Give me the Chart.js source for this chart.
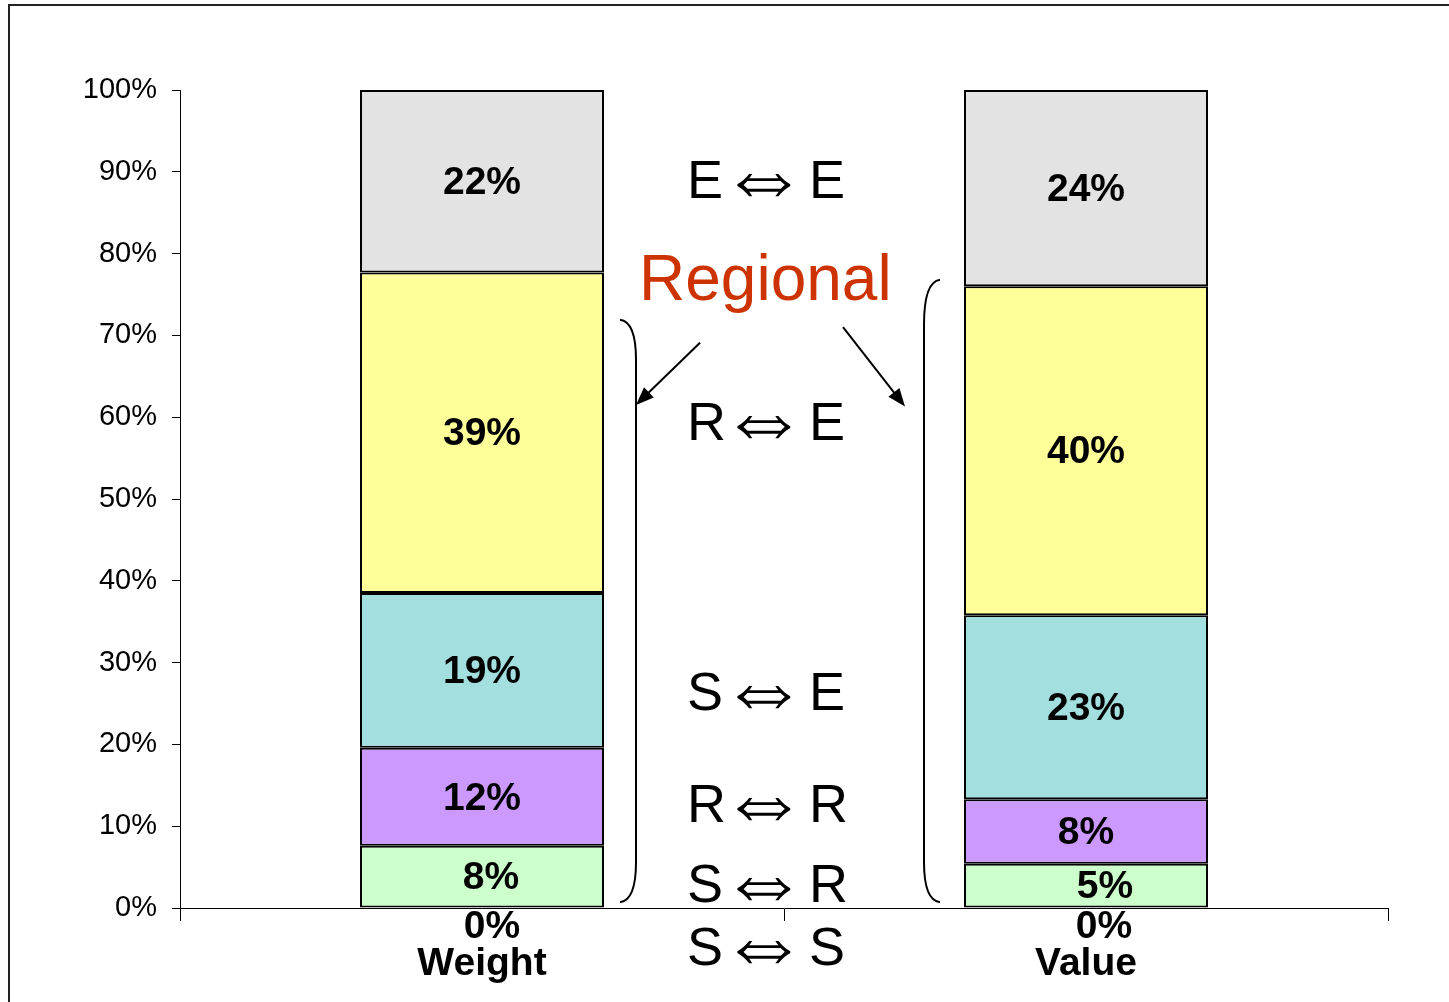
<!DOCTYPE html>
<html>
<head>
<meta charset="utf-8">
<script src="https://cdn.jsdelivr.net/npm/chart.js@4.4.0/dist/chart.umd.min.js"></script>
<style>
  html, body { margin: 0; padding: 0; background: #fff; }
  #wrap { position: relative; width: 1449px; height: 1002px; }
  #frame { position: absolute; left: 8px; top: 4px; right: -4px; bottom: -4px; border-left: 2px solid #222; border-top: 2px solid #222; }
  canvas { position: absolute; left: 0; top: 0; }
</style>
</head>
<body>
<div id="wrap">
  <div id="frame"></div>
  <canvas id="chart" width="1449" height="1002"></canvas>
</div>
<script>
// categories and series (percent of total), bottom segment first
const categories = ["Weight", "Value"];
const flowNames = ["S ⇔ S", "S ⇔ R", "R ⇔ R", "S ⇔ E", "R ⇔ E", "E ⇔ E"];
const weightShares = [0, 7.6, 12.0, 18.9, 39.2, 22.3];
const valueShares = [0, 5.4, 7.9, 22.5, 40.2, 24.0];
const yTicks = [0, 10, 20, 30, 40, 50, 60, 70, 80, 90, 100];
const noteTitle = "Regional";

const segmentColors = ["#FFFFFF", "#CCFFCC", "#CC99FF", "#A3DFDF", "#FFFF99", "#E3E3E3"];

const datasets = flowNames.map((name, i) => ({
  label: name,
  data: [weightShares[i], valueShares[i]],
  backgroundColor: segmentColors[i],
  borderColor: "#000",
  borderWidth: 2,
  borderSkipped: false,
  barPercentage: 0.404,
  categoryPercentage: 1.0,
}));

// percentage labels inside each segment
const segmentLabels = {
  id: "segmentLabels",
  afterDatasetsDraw(chart) {
    const ctx = chart.ctx;
    // the two bottom labels sit a little right of centre, as in the original
    const nudge = [[10, 18], [9, 19]];
    ctx.save();
    ctx.fillStyle = "#000";
    ctx.font = "bold 39px 'Liberation Sans', Arial, sans-serif";
    ctx.textAlign = "center";
    ctx.textBaseline = "middle";
    chart.data.datasets.forEach((ds, di) => {
      const meta = chart.getDatasetMeta(di);
      meta.data.forEach((bar, j) => {
        const v = ds.data[j];
        let y = (bar.y + bar.base) / 2;
        if (v === 0) y = bar.base + 17;
        const dx = nudge[di] ? nudge[di][j] : 0;
        ctx.fillText(Math.round(v) + "%", bar.x + dx, y + 2);
      });
    });
    ctx.restore();
  },
};

// the flow names in the middle, "Regional" note, brackets and arrows
const annotations = {
  id: "annotations",
  afterDraw(chart) {
    const ctx = chart.ctx;
    const y = chart.scales.y;
    const x = chart.scales.x;
    const mid = (x.getPixelForValue(0) + x.getPixelForValue(1)) / 2;
    const rowValues = [-7.0, 0.7, 10.5, 24.2, 57.2, 86.8];
    ctx.save();
    ctx.fillStyle = "#000";
    ctx.textBaseline = "alphabetic";
    flowNames.forEach((name, i) => {
      const parts = name.split(" ⇔ ");
      const by = y.getPixelForValue(rowValues[i]);
      ctx.font = "54px 'Liberation Sans', Arial, sans-serif";
      ctx.textAlign = "left";
      ctx.fillText(parts[0], mid - 97, by);
      ctx.fillText(parts[1], mid + 25, by);
      ctx.save();
      ctx.translate(mid - 20, by + 9);
      ctx.scale(0.95, 1);
      ctx.font = "200 94px 'DejaVu Sans', sans-serif";
      ctx.textAlign = "center";
      ctx.fillText("⇔", 0, 0);
      ctx.restore();
    });

    ctx.fillStyle = "#CC3300";
    ctx.font = "64px 'Liberation Sans', Arial, sans-serif";
    ctx.textAlign = "left";
    ctx.fillText(noteTitle, mid - 145, y.getPixelForValue(74.3));

    ctx.strokeStyle = "#000";
    ctx.lineWidth = 2;
    // left bracket
    const lx = x.getPixelForValue(0) + 154;
    const lTop = y.getPixelForValue(71.9);
    const lBot = y.getPixelForValue(0.7);
    ctx.beginPath();
    ctx.moveTo(lx - 16, lTop);
    ctx.quadraticCurveTo(lx, lTop + 2, lx, lTop + 40);
    ctx.lineTo(lx, lBot - 40);
    ctx.quadraticCurveTo(lx, lBot - 2, lx - 16, lBot);
    ctx.stroke();
    // right bracket
    const rx = x.getPixelForValue(1) - 162;
    const rTop = y.getPixelForValue(76.8);
    const rBot = y.getPixelForValue(0.7);
    ctx.beginPath();
    ctx.moveTo(rx + 16, rTop);
    ctx.quadraticCurveTo(rx, rTop + 2, rx, rTop + 45);
    ctx.lineTo(rx, rBot - 40);
    ctx.quadraticCurveTo(rx, rBot - 2, rx + 16, rBot);
    ctx.stroke();

    const arrow = (x0, y0, x1, y1) => {
      const a = Math.atan2(y1 - y0, x1 - x0);
      ctx.beginPath();
      ctx.moveTo(x0, y0);
      ctx.lineTo(x1 - 12 * Math.cos(a), y1 - 12 * Math.sin(a));
      ctx.stroke();
      ctx.beginPath();
      ctx.moveTo(x1, y1);
      ctx.lineTo(x1 - 18 * Math.cos(a) + 7 * Math.sin(a), y1 - 18 * Math.sin(a) - 7 * Math.cos(a));
      ctx.lineTo(x1 - 18 * Math.cos(a) - 7 * Math.sin(a), y1 - 18 * Math.sin(a) + 7 * Math.cos(a));
      ctx.closePath();
      ctx.fillStyle = "#000";
      ctx.fill();
    };
    arrow(mid - 84, y.getPixelForValue(69.1), mid - 148, y.getPixelForValue(61.5));
    arrow(mid + 59, y.getPixelForValue(71.0), mid + 121, y.getPixelForValue(61.3));
    ctx.restore();
  },
};

new Chart(document.getElementById("chart"), {
  type: "bar",
  data: { labels: categories, datasets },
  options: {
    responsive: false,
    animation: false,
    layout: { padding: { left: 0, top: 90, right: 61, bottom: 0 } },
    plugins: { legend: { display: false }, tooltip: { enabled: false } },
    scales: {
      x: {
        stacked: true,
        grid: { display: true, drawOnChartArea: false, drawTicks: true, tickLength: 13, color: "#000", offset: true },
        border: { display: true, color: "#000", width: 1 },
        ticks: { color: "#000", padding: 20, font: { family: "'Liberation Sans', Arial, sans-serif", size: 39, weight: "bold" } },
        afterFit(scale) { scale.height = 94; },
      },
      y: {
        stacked: true,
        min: 0,
        max: 100,
        afterBuildTicks(scale) { scale.ticks = yTicks.map((v) => ({ value: v })); },
        grid: { display: true, drawOnChartArea: false, drawTicks: true, tickLength: 8, color: "#000" },
        border: { display: true, color: "#000", width: 1 },
        ticks: { color: "#000", padding: 15, callback: (v) => v + "%", font: { family: "'Liberation Sans', Arial, sans-serif", size: 29 } },
        afterFit(scale) { scale.width = 180; },
      },
    },
  },
  plugins: [segmentLabels, annotations],
});
</script>
</body>
</html>
